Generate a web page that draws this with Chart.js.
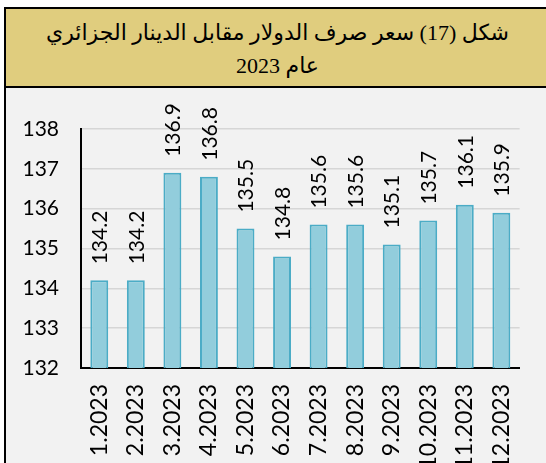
<!DOCTYPE html>
<html>
<head>
<meta charset="utf-8">
<script src="https://cdn.jsdelivr.net/npm/chart.js@4.4.1/dist/chart.umd.min.js"></script>
<style>
  html, body { margin: 0; padding: 0; background: #fff; overflow: hidden; }
  #frame {
    position: absolute; left: 4px; top: 7px; width: 600px; height: 500px;
    border-left: 2px solid #000; border-top: 2px solid #000;
    background: #f2f2f2;
  }
  #title {
    height: 77px; background: #e0cd7e; border-bottom: 2px solid #000;
    font-family: "Liberation Serif", "DejaVu Sans", serif;
    font-size: 22px; line-height: 33px; color: #000;
  }
  #title div { width: 543px; text-align: center; direction: rtl; padding-top: 7px; }
  #chart { position: absolute; left: 0; top: 88px; }
</style>
</head>
<body>
<div id="frame">
  <div id="title"><div>شكل (17) سعر صرف الدولار مقابل الدينار الجزائري<br>عام 2023</div></div>
</div>
<canvas id="chart" width="546" height="375"></canvas>
<script>
// monthly USD / DZD rate, 2023
var months = ['1.2023', '2.2023', '3.2023', '4.2023', '5.2023', '6.2023',
              '7.2023', '8.2023', '9.2023', '10.2023', '11.2023', '12.2023'];
var rates = [134.2, 134.2, 136.9, 136.8, 135.5, 134.8, 135.6, 135.6, 135.1, 135.7, 136.1, 135.9];
var yMin = 132, yMax = 138;

var FONT = 'Lato';

// rotated value labels above each bar
var barLabels = {
    id: 'barLabels',
    afterDatasetsDraw: function (chart) {
        var ctx = chart.ctx;
        var meta = chart.getDatasetMeta(0);
        ctx.save();
        ctx.font = '21px ' + FONT;
        ctx.fillStyle = '#000';
        ctx.textAlign = 'left';
        ctx.textBaseline = 'middle';
        meta.data.forEach(function (bar, i) {
            ctx.save();
            ctx.translate(bar.x + 1, bar.y - 16);
            ctx.rotate(-Math.PI / 2);
            ctx.fillText(rates[i].toFixed(1), 0, 0);
            ctx.restore();
        });
        ctx.restore();
    }
};

var ctx = document.getElementById('chart').getContext('2d');
var chart = new Chart(ctx, {
    type: 'bar',
    data: {
        labels: months,
        datasets: [{
            data: rates,
            backgroundColor: '#92cddc',
            borderColor: '#4bacc6',
            borderWidth: 2,
            categoryPercentage: 1,
            barPercentage: 0.49
        }]
    },
    options: {
        responsive: false,
        animation: false,
        layout: { padding: { top: 41, right: 25, left: 0, bottom: 0 } },
        plugins: {
            legend: { display: false },
            tooltip: { enabled: false }
        },
        scales: {
            y: {
                min: yMin,
                max: yMax,
                afterFit: function (scale) { scale.width = 81; },
                ticks: {
                    stepSize: 1,
                    padding: 22,
                    color: '#000',
                    font: { family: FONT, size: 21 }
                },
                grid: { color: '#d6d6d6', lineWidth: 1.5, drawTicks: false },
                border: { display: true, color: '#000', width: 2 }
            },
            x: {
                afterFit: function (scale) { scale.height = 95; },
                ticks: {
                    minRotation: 90,
                    maxRotation: 90,
                    padding: 16,
                    autoSkip: false,
                    color: '#000',
                    font: { family: FONT, size: 23 }
                },
                grid: { display: false, drawTicks: false },
                border: { display: true, color: '#000', width: 2 }
            }
        }
    },
    plugins: [barLabels]
});
</script>
</body>
</html>
